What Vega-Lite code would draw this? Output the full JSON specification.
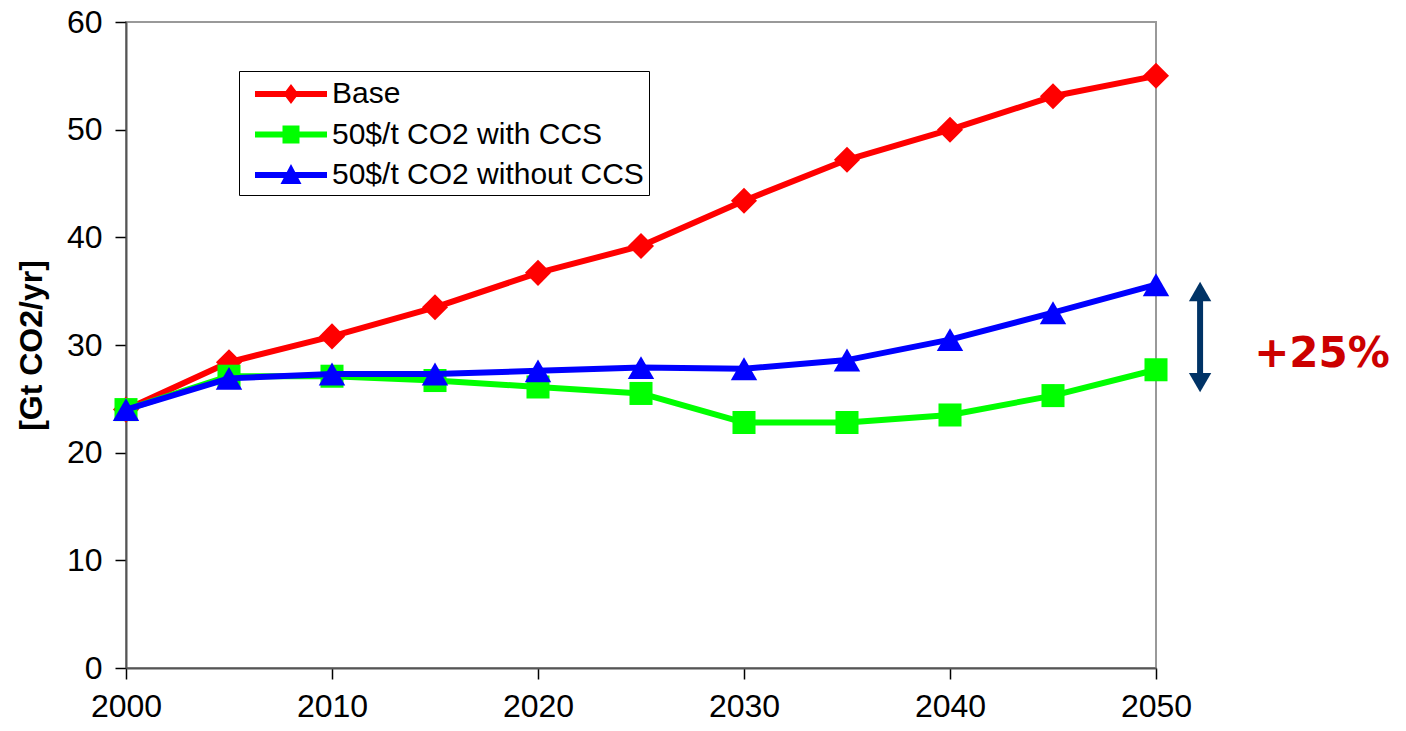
{
  "$schema": "https://vega.github.io/schema/vega-lite/v6.json",
  "width": 1030,
  "height": 646,
  "autosize": {"type": "none"},
  "padding": {"left": 126, "top": 22, "right": 250, "bottom": 63},
  "background": "white",
  "config": {
    "view": {"stroke": "#999999", "strokeWidth": 2},
    "font": "Liberation Sans",
    "axis": {
      "grid": false,
      "domainColor": "#555555",
      "domainWidth": 2,
      "tickColor": "#000000",
      "tickSize": 11,
      "tickWidth": 1.5,
      "labelColor": "#000000",
      "labelFont": "Liberation Sans",
      "labelFontSize": 32,
      "labelFontWeight": "normal"
    },
    "legend": {
      "padding": 5,
      "strokeColor": "#000000",
      "fillColor": "#FFFFFF",
      "labelFont": "Liberation Sans",
      "labelFontSize": 30,
      "labelColor": "#000000",
      "labelOffset": 52,
      "labelLimit": 500,
      "symbolSize": 1296,
      "symbolStrokeWidth": 0,
      "symbolOpacity": 1,
      "rowPadding": 7.5
    }
  },
  "datasets": {
    "emissions": [
      {"year": 2000, "series": "Base", "value": 24.0},
      {"year": 2005, "series": "Base", "value": 28.4},
      {"year": 2010, "series": "Base", "value": 30.8},
      {"year": 2015, "series": "Base", "value": 33.5},
      {"year": 2020, "series": "Base", "value": 36.7},
      {"year": 2025, "series": "Base", "value": 39.2},
      {"year": 2030, "series": "Base", "value": 43.4},
      {"year": 2035, "series": "Base", "value": 47.2},
      {"year": 2040, "series": "Base", "value": 50.0},
      {"year": 2045, "series": "Base", "value": 53.1},
      {"year": 2050, "series": "Base", "value": 55.0},
      {"year": 2000, "series": "50$/t CO2 with CCS", "value": 24.0},
      {"year": 2005, "series": "50$/t CO2 with CCS", "value": 27.1},
      {"year": 2010, "series": "50$/t CO2 with CCS", "value": 27.1},
      {"year": 2015, "series": "50$/t CO2 with CCS", "value": 26.7},
      {"year": 2020, "series": "50$/t CO2 with CCS", "value": 26.1},
      {"year": 2025, "series": "50$/t CO2 with CCS", "value": 25.5},
      {"year": 2030, "series": "50$/t CO2 with CCS", "value": 22.8},
      {"year": 2035, "series": "50$/t CO2 with CCS", "value": 22.8},
      {"year": 2040, "series": "50$/t CO2 with CCS", "value": 23.5},
      {"year": 2045, "series": "50$/t CO2 with CCS", "value": 25.3},
      {"year": 2050, "series": "50$/t CO2 with CCS", "value": 27.7},
      {"year": 2000, "series": "50$/t CO2 without CCS", "value": 24.0},
      {"year": 2005, "series": "50$/t CO2 without CCS", "value": 26.9},
      {"year": 2010, "series": "50$/t CO2 without CCS", "value": 27.3},
      {"year": 2015, "series": "50$/t CO2 without CCS", "value": 27.3},
      {"year": 2020, "series": "50$/t CO2 without CCS", "value": 27.6},
      {"year": 2025, "series": "50$/t CO2 without CCS", "value": 27.9},
      {"year": 2030, "series": "50$/t CO2 without CCS", "value": 27.8},
      {"year": 2035, "series": "50$/t CO2 without CCS", "value": 28.6},
      {"year": 2040, "series": "50$/t CO2 without CCS", "value": 30.5},
      {"year": 2045, "series": "50$/t CO2 without CCS", "value": 33.0},
      {"year": 2050, "series": "50$/t CO2 without CCS", "value": 35.6}
    ],
    "gapArrow": [
      {"year": 2052.14, "from": 26.7, "to": 34.6}
    ],
    "arrowTop": [
      {"year": 2052.14, "value": 34.97}
    ],
    "arrowBottom": [
      {"year": 2052.14, "value": 26.5}
    ],
    "gapLabel": [
      {"year": 2058.06, "value": 27.96, "text": "+25%"}
    ]
  },
  "encoding": {
    "x": {
      "field": "year",
      "type": "quantitative",
      "scale": {"domain": [2000, 2050], "nice": false, "zero": false},
      "axis": {"title": null, "values": [2000, 2010, 2020, 2030, 2040, 2050], "format": "d", "labelPadding": 12, "labelFlush": false}
    },
    "y": {
      "field": "value",
      "type": "quantitative",
      "scale": {"domain": [0, 60], "nice": false},
      "axis": {
        "title": "[Gt CO2/yr]",
        "values": [0, 10, 20, 30, 40, 50, 60],
        "labelPadding": 13,
        "titleFont": "Liberation Sans",
        "titleFontSize": 32,
        "titleFontWeight": "bold",
        "titleColor": "#000000",
        "titleAngle": -90,
        "titleX": -95,
        "titleY": 323,
        "titleAlign": "center",
        "titleBaseline": "middle"
      }
    }
  },
  "layer": [
    {
      "data": {"name": "emissions"},
      "transform": [{"filter": "datum.series === 'Base'"}],
      "mark": {"type": "line", "color": "#FF0000", "strokeWidth": 6, "strokeJoin": "round", "strokeCap": "round"}
    },
    {
      "data": {"name": "emissions"},
      "transform": [{"filter": "datum.series === 'Base'"}],
      "mark": {"type": "point", "shape": "diamond", "filled": true, "color": "#FF0000", "opacity": 1, "size": 680}
    },
    {
      "data": {"name": "emissions"},
      "transform": [{"filter": "datum.series === '50$/t CO2 with CCS'"}],
      "mark": {"type": "line", "color": "#00FF00", "strokeWidth": 6, "strokeJoin": "round", "strokeCap": "round"}
    },
    {
      "data": {"name": "emissions"},
      "transform": [{"filter": "datum.series === '50$/t CO2 with CCS'"}],
      "mark": {"type": "point", "shape": "square", "filled": true, "color": "#00FF00", "opacity": 1, "size": 530}
    },
    {
      "data": {"name": "emissions"},
      "transform": [{"filter": "datum.series === '50$/t CO2 without CCS'"}],
      "mark": {"type": "line", "color": "#0000FF", "strokeWidth": 6, "strokeJoin": "round", "strokeCap": "round"}
    },
    {
      "data": {"name": "emissions"},
      "transform": [{"filter": "datum.series === '50$/t CO2 without CCS'"}],
      "mark": {"type": "point", "shape": "triangle-up", "filled": true, "color": "#0000FF", "opacity": 1, "size": 700}
    },
    {
      "data": {"name": "emissions"},
      "transform": [{"filter": "datum.value < 0"}],
      "mark": {"type": "point", "filled": true, "opacity": 1},
      "encoding": {
        "color": {
          "field": "series",
          "type": "nominal",
          "scale": {
            "domain": ["Base", "50$/t CO2 with CCS", "50$/t CO2 without CCS"],
            "range": ["#FF0000", "#00FF00", "#0000FF"]
          },
          "legend": {
            "title": null,
            "orient": "none",
            "legendX": 113,
            "legendY": 49,
            "direction": "vertical"
          }
        },
        "shape": {
          "field": "series",
          "type": "nominal",
          "scale": {
            "domain": ["Base", "50$/t CO2 with CCS", "50$/t CO2 without CCS"],
            "range": [
              "M-0.389,-0.167L1.319,-0.167L1.611,-0.556L1.903,-0.167L3.611,-0.167L3.611,0.167L1.903,0.167L1.611,0.556L1.319,0.167L-0.389,0.167Z",
              "M-0.389,-0.167L1.139,-0.167L1.139,-0.5L2.083,-0.5L2.083,-0.167L3.611,-0.167L3.611,0.167L2.083,0.167L2.083,0.5L1.139,0.5L1.139,0.167L-0.389,0.167Z",
              "M-0.389,-0.167L1.378,-0.167L1.611,-0.611L1.844,-0.167L3.611,-0.167L3.611,0.167L2.019,0.167L2.194,0.5L1.028,0.5L1.203,0.167L-0.389,0.167Z"
            ]
          },
          "legend": {
            "title": null,
            "orient": "none",
            "legendX": 113,
            "legendY": 49,
            "direction": "vertical"
          }
        },
        "size": {"value": 1296}
      }
    },
    {
      "data": {"name": "gapArrow"},
      "mark": {"type": "rule", "color": "#003366", "strokeWidth": 6},
      "encoding": {
        "x": {"field": "year", "type": "quantitative"},
        "y": {"field": "from", "type": "quantitative"},
        "y2": {"field": "to"}
      }
    },
    {
      "data": {"name": "arrowTop"},
      "mark": {"type": "point", "shape": "triangle-up", "filled": true, "color": "#003366", "opacity": 1, "size": 500}
    },
    {
      "data": {"name": "arrowBottom"},
      "mark": {"type": "point", "shape": "triangle-down", "filled": true, "color": "#003366", "opacity": 1, "size": 500}
    },
    {
      "data": {"name": "gapLabel"},
      "mark": {"type": "text", "font": "DejaVu Sans", "fontWeight": "bold", "fontSize": 42, "color": "#CC0000", "align": "center", "baseline": "alphabetic"},
      "encoding": {
        "text": {"field": "text"}
      }
    }
  ]
}
